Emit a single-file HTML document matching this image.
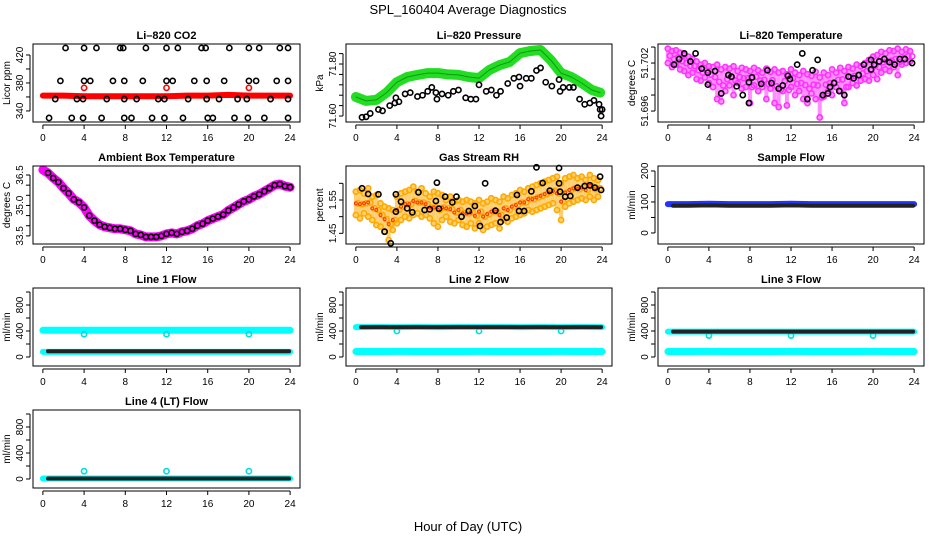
<!DOCTYPE html>
<html><head><meta charset="utf-8"><style>
html,body{margin:0;padding:0;background:#fff;}
svg{display:block;font-family:"Liberation Sans",sans-serif;}
</style></head><body>
<svg id="chart" width="936" height="540" viewBox="0 0 936 540" xmlns="http://www.w3.org/2000/svg">
<text x="468" y="14" text-anchor="middle" font-size="13">SPL_160404  Average Diagnostics</text>
<text x="468" y="531" text-anchor="middle" font-size="13">Hour of Day (UTC)</text>
</svg>
<script>
// ---- data ----
const xTicks = [0,4,8,12,16,20,24];
const co2Hours = [2.2,4,5.2,7.5,7.8,10,12,13.1,15.4,15.8,18.1,20,21,23,23.8,
 1.7,4,4.6,6.8,7.9,9.7,12,12.6,14.7,15.9,17.6,20,20.7,22.7,23.8,
 1.2,3.3,3.9,6.2,7.9,9.1,11.2,11.8,14.1,15.9,17.1,18.9,19.8,22.1,23.8,
 0.6,2.8,3.9,5.7,7.9,8.6,10.6,11.8,13.6,16,16.5,18.6,19.9,21.5,23.8];
const co2Vals = [430,430,430,430,430,430,430,430,430,430,430,430,430,430,430,
 383,383,383,383,383,383,383,383,383,383,383,383,383,383,383,
 357,357,357,357,357,357,357,357,357,357,357,357,357,357,357,
 330,330,330,330,330,330,330,330,330,330,330,330,330,330,330];
const co2BandHours = [0,2,4,6,8,10,12,14,16,18,20,22,24];
const co2BandVals = [362,362,361,361,361,361,361,362,362,363,362,362,362];
const co2SpikeHours = [4,12,20];
const co2SpikeVals = [373,373,373];

const presHours = [0,1,2,3,4,5,6,7,8,9,10,11,12,13,14,15,16,17,18,19,20,21,22,23,23.8];
const presVals = [71.673,71.658,71.662,71.69,71.73,71.75,71.758,71.765,71.765,71.76,71.758,71.75,71.746,71.777,71.796,71.808,71.842,71.85,71.854,71.815,71.765,71.75,71.727,71.70,71.69];
const presBlkHours = [0.6,1,1.4,2.2,2.6,3.3,3.8,3.9,4.2,4.8,5.3,6,6.5,7,7.4,7.8,7.9,8.4,9,9.5,10,10.7,11.2,11.7,12,12.7,13.2,13.7,14.1,14.8,15.4,15.9,16,16.6,17.1,17.6,18,18.5,19.1,19.8,19.9,20.2,20.8,21.2,21.8,22.3,22.8,23.2,23.7,23.8,23.9,24];
const presBlkVals = [71.595,71.597,71.61,71.625,71.62,71.64,71.65,71.67,71.655,71.685,71.69,71.675,71.68,71.695,71.71,71.69,71.665,71.685,71.68,71.695,71.70,71.67,71.665,71.665,71.72,71.695,71.70,71.68,71.695,71.725,71.745,71.75,71.715,71.745,71.745,71.775,71.785,71.73,71.715,71.74,71.695,71.71,71.71,71.71,71.665,71.645,71.65,71.66,71.645,71.625,71.60,71.625];

const cloudHours = [0,0.4,0.8,1.2,1.6,2,2.4,2.8,3.2,3.6,4,4.4,4.8,5.2,5.6,6,6.4,6.8,7.2,7.6,8,8.4,8.8,9.2,9.6,10,10.4,10.8,11.2,11.6,12,12.4,12.8,13.2,13.6,14,14.4,14.8,15.2,15.6,16,16.4,16.8,17.2,17.6,18,18.4,18.8,19.2,19.6,20,20.4,20.8,21.2,21.6,22,22.4,22.8,23.2,23.6];
const tempA = [51.7038,51.7035,51.7036,51.7033,51.7030,51.7028,51.7025,51.7022,51.7018,51.7020,51.7016,51.7015,51.7018,51.7012,51.7015,51.7013,51.7016,51.7010,51.7014,51.7012,51.7010,51.7014,51.7011,51.7008,51.7013,51.7009,51.7012,51.7008,51.7010,51.7006,51.7012,51.7008,51.7005,51.7010,51.7006,51.7004,51.7009,51.7002,51.7008,51.7005,51.7012,51.7008,51.7014,51.7010,51.7015,51.7013,51.7018,51.7016,51.7020,51.7024,51.7028,51.7030,51.7034,51.7032,51.7036,51.7035,51.7038,51.7034,51.7037,51.7035];
const tempB = [51.7020,51.7015,51.7018,51.7012,51.7010,51.7005,51.7008,51.7000,51.6998,51.7002,51.6995,51.6990,51.6975,51.6972,51.6985,51.6992,51.6980,51.6995,51.6988,51.6990,51.6970,51.6992,51.6985,51.6990,51.6975,51.6988,51.6970,51.6965,51.6985,51.6967,51.6990,51.6980,51.6985,51.6975,51.6970,51.6982,51.6975,51.6952,51.6978,51.6985,51.6980,51.6990,51.6985,51.6970,51.6990,51.6995,51.6992,51.6998,51.7000,51.6998,51.7005,51.7000,51.7008,51.7012,51.7010,51.7015,51.7005,51.7018,51.7020,51.7022];
const tempBlkHours = [0.6,1.1,1.6,2.2,2.7,3.3,3.9,3.9,4.6,5.2,5.9,6.2,6.7,7.3,7.9,7.9,8.2,9.1,9.7,10.1,10.8,11.2,11.7,11.9,12.6,13.1,13.6,14.1,14.6,15.1,15.6,15.8,16.2,16.7,17.2,17.6,18.1,18.6,19.1,19.8,19.8,20.1,20.6,21.1,21.6,22.1,22.6,23.1,23.8];
const tempBlkVals = [51.7018,51.7025,51.7032,51.7022,51.7032,51.7013,51.7008,51.6993,51.7010,51.6982,51.7005,51.7003,51.6991,51.6980,51.6996,51.6970,51.7002,51.6994,51.7011,51.6995,51.6988,51.6992,51.7004,51.7000,51.7018,51.7032,51.6975,51.7011,51.7024,51.6980,51.6982,51.6990,51.6995,51.6985,51.6980,51.7003,51.7001,51.7005,51.7018,51.7024,51.7012,51.7018,51.7022,51.7025,51.7021,51.7018,51.7025,51.7025,51.7020];

const ambHours = [0,0.5,1,1.5,2,2.5,3,3.5,4,4.5,5,5.5,6,6.5,7,7.5,8,8.5,9,9.5,10,10.5,11,11.5,12,12.5,13,13.5,14,14.5,15,15.5,16,16.5,17,17.5,18,18.5,19,19.5,20,20.5,21,21.5,22,22.5,23,23.5,24];
const ambVals = [36.75,36.6,36.35,36.15,35.85,35.6,35.3,35.15,34.9,34.5,34.25,34.05,33.95,33.9,33.85,33.85,33.8,33.75,33.6,33.55,33.45,33.45,33.45,33.5,33.6,33.65,33.6,33.7,33.75,33.85,34.0,34.1,34.25,34.35,34.45,34.55,34.75,34.9,35.05,35.2,35.3,35.45,35.55,35.7,35.85,36.0,36.05,35.95,35.9];

const rhA = [1.575,1.58,1.57,1.585,1.56,1.565,1.54,1.53,1.525,1.52,1.56,1.57,1.575,1.58,1.59,1.575,1.585,1.57,1.56,1.575,1.57,1.565,1.55,1.56,1.545,1.55,1.545,1.55,1.545,1.54,1.55,1.54,1.545,1.555,1.55,1.545,1.56,1.555,1.565,1.57,1.58,1.575,1.585,1.59,1.595,1.60,1.605,1.61,1.615,1.62,1.60,1.615,1.62,1.625,1.615,1.62,1.61,1.625,1.615,1.61];
const rhB = [1.505,1.495,1.51,1.50,1.49,1.475,1.47,1.455,1.43,1.46,1.48,1.49,1.50,1.495,1.505,1.51,1.50,1.505,1.495,1.48,1.47,1.49,1.50,1.485,1.48,1.49,1.475,1.47,1.48,1.465,1.48,1.46,1.47,1.475,1.48,1.465,1.49,1.485,1.495,1.50,1.505,1.51,1.52,1.515,1.52,1.525,1.53,1.535,1.54,1.52,1.49,1.53,1.54,1.545,1.55,1.555,1.55,1.56,1.55,1.56];
const rhBlkHours = [0.6,1.2,2.2,2.8,3.4,3.9,3.9,4.4,5.0,5.5,6.1,6.7,7.2,7.8,7.9,8.1,8.7,9.4,9.8,10.3,11.0,11.6,12.1,12.6,13.6,14.1,14.7,15.7,15.9,16.4,17.1,17.6,18.2,18.9,19.8,19.8,19.9,20.4,20.9,21.6,22.3,22.8,23.3,23.8,23.9];
const rhBlkVals = [1.585,1.568,1.567,1.455,1.42,1.567,1.515,1.545,1.525,1.513,1.573,1.52,1.522,1.547,1.602,1.524,1.56,1.543,1.56,1.50,1.517,1.532,1.472,1.60,1.518,1.484,1.497,1.565,1.517,1.517,1.576,1.648,1.601,1.578,1.646,1.60,1.575,1.56,1.562,1.587,1.592,1.594,1.587,1.62,1.58];

const flowHours = [0,2,4,6,8,10,12,14,16,18,20,22,24];
const flowBlkHours = [0.5,2,4,6,8,10,12,14,16,18,20,22,23.9];
const sampleCyanVals = [93,93,94,93,93,93,94,93,93,93,93,93,93];
const sampleBlkVals = [88,88,89,88,88,88,89,88,88,88,88,88,88];
const line1Hi = [410,412,410,412,410,411,410,412,410,411,410,410,412];
const line1Lo = [88,88,89,88,89,88,89,88,88,88,89,88,89];
const line2Hi = [460,462,460,461,460,462,461,462,460,461,460,461,460];
const line2Lo = [85,85,86,85,85,85,86,85,85,85,86,85,85];
const line3Hi = [390,391,390,391,390,390,391,390,391,390,390,391,390];
const line3Lo = [85,85,86,85,85,85,86,85,85,85,86,85,85];
const line4Vals = [8,8,8,8,8,8,8,8,8,8,8,8,8];
const dipHours = [4,12,20];
const line1Dips = [350,350,350];
const line2Dips = [400,400,400];
const line3Dips = [330,330,330];
const line4Bumps = [120,120,120];

// ---- drawing ----
const NS="http://www.w3.org/2000/svg";
const svg=document.getElementById('chart');
const COLS=[[33,300],[346,612],[658,924]];
const ROW0=44, ROWSTEP=122, BOXH=78;
function mk(tag,attrs,parent){const e=document.createElementNS(NS,tag);for(const k in attrs)e.setAttribute(k,attrs[k]);(parent||svg).appendChild(e);return e;}

function panel(name,col,row,title,ylab,ylim,yTicks,yLabels){
  const [x0,x1]=COLS[col]; const y0=ROW0+row*ROWSTEP, y1=y0+BOXH;
  const g=mk('g',{});
  
  
  const xs=h=>x0+(h+0.96)/25.92*(x1-x0);
  const ys=v=>y1-(v-ylim[0])/(ylim[1]-ylim[0])*BOXH;
  const t=mk('text',{x:(x0+x1)/2,y:y0-5,'text-anchor':'middle','font-size':11,'font-weight':'bold'},g);
  t.textContent=title;
  
  
  const plot=mk('g',{},g);
  
  
  const xa=mk('g',{stroke:'#000','stroke-width':1},g);
  
  
  mk('line',{x1:xs(xTicks[0]),x2:xs(xTicks[xTicks.length-1]),y1:y1+3,y2:y1+3},xa);
  xTicks.forEach(h=>{
    mk('line',{x1:xs(h),x2:xs(h),y1:y1+3,y2:y1+7},xa);
    const l=mk('text',{x:xs(h),y:y1+19,'text-anchor':'middle','font-size':10,stroke:'none'},xa);
    l.textContent=h;
    
    
  });
  const ya=mk('g',{stroke:'#000','stroke-width':1},g);
  
  
  mk('line',{x1:x0-3,x2:x0-3,y1:ys(yTicks[0]),y2:ys(yTicks[yTicks.length-1])},ya);
  yTicks.forEach(v=>mk('line',{x1:x0-3,x2:x0-7,y1:ys(v),y2:ys(v)},ya));
  yLabels.forEach(v=>{
    const l=mk('text',{x:0,y:0,'text-anchor':'middle','font-size':10,stroke:'none',transform:`translate(${x0-10},${ys(v)}) rotate(-90)`},ya);
    l.textContent=v;
    
    
  });
  const yt=mk('text',{x:0,y:0,'text-anchor':'middle','font-size':10,transform:`translate(${x0-23},${(y0+y1)/2}) rotate(-90)`},g);
  yt.textContent=ylab;
  
  
  const box=mk('rect',{x:x0,y:y0,width:x1-x0,height:BOXH,fill:'none',stroke:'#000','stroke-width':1},g);
  
  
  return {xs,ys,plot};
}
function pts(p,hs,vs,color,name,r,sw){
  hs.forEach((h,i)=>{
    const c=mk('circle',{cx:p.xs(h),cy:p.ys(vs[i]),r:r||2.6,fill:'none',stroke:color,'stroke-width':sw||1.6},p.plot);
    
    
  });
}
function band(p,hs,vs,color,w,name){
  const d=hs.map((h,i)=>(i?'L':'M')+p.xs(h).toFixed(1)+','+p.ys(vs[i]).toFixed(1)).join('');
  const e=mk('path',{d,fill:'none',stroke:color,'stroke-width':w,'stroke-linecap':'round','stroke-linejoin':'round'},p.plot);
  
  
}
function cloud(p,hs,a,b,color,name){
  hs.forEach((h,i)=>{
    const l=mk('line',{x1:p.xs(h),x2:p.xs(h),y1:p.ys(a[i]),y2:p.ys(b[i]),stroke:color,'stroke-width':4,'stroke-linecap':'round','stroke-opacity':0.55},p.plot);
    
    
  });
  pts(p,hs,a,color,name+'-point');
  pts(p,hs,b,color,name+'-point');
  pts(p,hs.map((h,i)=>h+0.2),a.map((v,i)=>(v+b[i])/2),color,name+'-point');
}

// Li-820 CO2
let p=panel('co2',0,0,'Li\u2013820 CO2','Licor ppm',[324.2,435.7],[340,360,380,400,420],[340,380,420]);
band(p,co2BandHours,co2BandVals,'#ff0000',6,'co2-band');
pts(p,co2SpikeHours,co2SpikeVals,'#ff0000','co2-red-point');
pts(p,co2Hours,co2Vals,'#000','co2-black-point');

// Pressure
p=panel('pressure',1,0,'Li\u2013820 Pressure','kPa',[71.577,71.877],[71.60,71.64,71.68,71.72,71.76,71.80,71.84],['71.60','71.80']);
band(p,presHours,presVals,'#22dd22',10,'pressure-band');
band(p,presHours,presVals,'#119911',1,'pressure-band-core');
pts(p,presBlkHours,presBlkVals,'#000','pressure-point');

// Temperature
p=panel('temperature',2,0,'Li\u2013820 Temperature','degrees C',[51.69463,51.70438],[51.696,51.698,51.700,51.702,51.704],['51.696','51.702']);
cloud(p,cloudHours,tempA,tempB,'#ff33ff','temperature-magenta');
pts(p,tempBlkHours,tempBlkVals,'#000','temperature-point');

// Ambient box temp
p=panel('ambient',0,1,'Ambient Box Temperature','degrees C',[33.101,36.943],[33.5,34.0,34.5,35.0,35.5,36.0,36.5],['33.5','35.0','36.5']);
band(p,ambHours,ambVals,'#ff00ff',9,'ambient-band');
pts(p,ambHours.slice(1),ambVals.slice(1),'#000','ambient-point');

// Gas stream RH
p=panel('rh',1,1,'Gas Stream RH','percent',[1.418,1.652],[1.45,1.50,1.55,1.60],['1.45','1.55']);
cloud(p,cloudHours,rhA,rhB,'#ffaa00','rh-orange');
pts(p,cloudHours,rhA.map((v,i)=>(v+rhB[i])/2),'#ff3300','rh-red-point',1.5,1);
pts(p,rhBlkHours,rhBlkVals,'#000','rh-point');

// Sample flow
p=panel('sample-flow',2,1,'Sample Flow','ml/min',[-35.6,216],[0,50,100,150,200],[0,100,200]);
band(p,flowHours,sampleCyanVals,'#2233ff',6,'sample-flow-band');
band(p,flowBlkHours,sampleBlkVals,'#222',4,'sample-flow-black');

const FL=[-138.5,1061.5], FT=[0,200,400,600,800,1000], FLab=[0,400,800];
// Line 1
p=panel('line1-flow',0,2,'Line 1 Flow','ml/min',FL,FT,FLab);
band(p,flowHours,line1Hi,'#00ffff',7,'line1-high-band');
band(p,flowHours,line1Lo.map(v=>v-10),'#00ffff',6,'line1-low-band');
pts(p,dipHours,line1Dips,'#00dddd','line1-dip');
band(p,flowBlkHours,line1Lo,'#222',4,'line1-black');
// Line 2
p=panel('line2-flow',1,2,'Line 2 Flow','ml/min',FL,FT,FLab);
band(p,flowHours,line2Lo,'#00ffff',7,'line2-low-band');
band(p,flowHours,line2Hi,'#00ffff',6,'line2-high-band');
pts(p,dipHours,line2Dips,'#00dddd','line2-dip');
band(p,flowBlkHours,line2Hi,'#222',4,'line2-black');
// Line 3
p=panel('line3-flow',2,2,'Line 3 Flow','ml/min',FL,FT,FLab);
band(p,flowHours,line3Lo,'#00ffff',7,'line3-low-band');
band(p,flowHours,line3Hi,'#00ffff',6,'line3-high-band');
pts(p,dipHours,line3Dips,'#00dddd','line3-dip');
band(p,flowBlkHours,line3Hi,'#222',4,'line3-black');
// Line 4
p=panel('line4-flow',0,3,'Line 4 (LT) Flow','ml/min',FL,FT,FLab);
band(p,flowHours,line4Vals,'#00ffff',6,'line4-band');
pts(p,dipHours,line4Bumps,'#00dddd','line4-bump');
band(p,flowBlkHours,line4Vals,'#222',4,'line4-black');
</script>
</body></html>
